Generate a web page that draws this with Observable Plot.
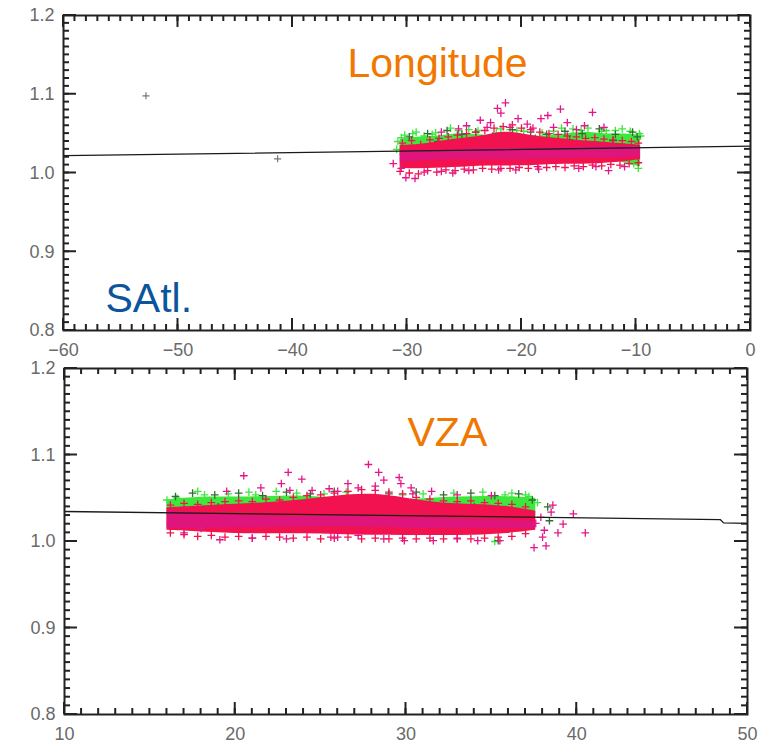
<!DOCTYPE html>
<html><head><meta charset="utf-8">
<script src="https://cdn.jsdelivr.net/npm/d3@7"></script>
<script src="https://cdn.jsdelivr.net/npm/@observablehq/plot@0.6"></script>
<style>
body{margin:0;background:#fff;}
#wrap{position:relative;width:758px;height:752px;overflow:hidden;background:#fff;}
#top{position:absolute;left:0;top:0;}
#bot{position:absolute;left:0;top:355px;}
</style></head><body><div id="wrap"><div id="top"></div><div id="bot"></div></div>
<script>
// ---------- colours ----------
const cGreen = "#3ce83c", cDark = "#2f6e2f", cRed = "#f2124f", cMag = "#cc18a8", cPink = "#e3168a";

// ---------- axis ticks ----------
const yMajor = [0.8, 0.9, 1.0, 1.1, 1.2];
const lonMajor = [-60, -50, -40, -30, -20, -10, 0];
const vzaMajor = [10, 20, 30, 40, 50];

// ---------- top panel: Longitude ----------
const lonBandX     = [-30.6, -29, -27.5, -26, -24.5, -23, -21.5, -20, -18.5, -17, -15.5, -14, -12.5, -11, -9.6];
const lonGreenTop  = [1.043, 1.046, 1.046, 1.050, 1.050, 1.047, 1.050, 1.048, 1.046, 1.048, 1.051, 1.052, 1.049, 1.050, 1.048];
const lonGreenBot  = [1.022, 1.022, 1.026, 1.028, 1.028, 1.028, 1.028, 1.028, 1.028, 1.028, 1.028, 1.026, 1.020, 1.012, 1.008];
const lonRedTop    = [1.035, 1.036, 1.039, 1.043, 1.045, 1.048, 1.053, 1.050, 1.046, 1.044, 1.042, 1.040, 1.039, 1.037, 1.035];
const lonRedBot    = [1.006, 1.005, 1.006, 1.007, 1.008, 1.009, 1.009, 1.009, 1.010, 1.011, 1.011, 1.011, 1.013, 1.014, 1.017];
const lonMagTop    = [1.028, 1.029, 1.029, 1.030, 1.031, 1.031, 1.031, 1.031, 1.032, 1.032, 1.033, 1.033, 1.034, 1.034, 1.034];
const lonMagBot    = [1.014, 1.015, 1.017, 1.017, 1.017, 1.017, 1.017, 1.017, 1.018, 1.018, 1.019, 1.019, 1.019, 1.019, 1.021];
const lonPinkPts = [[-21.4,1.089],[-22.1,1.082],[-21.8,1.076],[-17.7,1.073],[-16.6,1.081],[-13.8,1.077],[-23.6,1.067],
  [-20.3,1.069],[-22.7,1.064],[-18.3,1.069],[-19.5,1.062],[-24.8,1.060],[-21,1.058],[-16,1.064],[-14.5,1.060],
  [-25.5,1.056],[-19,1.057],[-12.8,1.058],[-27,1.052],[-23,1.058],[-17.2,1.058],[-15.2,1.055],
  [-30.1,0.994],[-29.3,0.993],[-31.2,1.012],[-24.6,1.003],[-12.4,1.003],[-28.5,1.001],[-27,1.002],[-22,1.004],
  [-18.5,1.005],[-15,1.006],[-30.5,1.006],[-11,1.008],[-26,1.000],[-20.5,1.004],[-13.5,1.008]];
const lonRedPts = [[-30.4,1.038],[-29.6,1.041],[-28.8,1.036],[-28,1.042],[-27.2,1.044],[-26.4,1.046],[-25.6,1.048],
  [-24.8,1.050],[-24,1.052],[-23.2,1.054],[-22.4,1.057],[-21.6,1.059],[-20.8,1.061],[-20,1.057],[-19.2,1.055],
  [-18.4,1.052],[-17.6,1.050],[-16.8,1.049],[-16,1.047],[-15.2,1.046],[-14.4,1.044],[-13.6,1.045],[-12.8,1.043],
  [-12,1.042],[-11.2,1.041],[-10.4,1.040],[-9.8,1.038],
  [-30.6,1.002],[-29.8,1.000],[-29,0.999],[-28.2,1.003],[-27.4,1.001],[-26.6,1.004],[-25.8,1.003],[-25,1.005],
  [-24.2,1.004],[-23.4,1.006],[-22.6,1.005],[-21.8,1.006],[-21,1.006],[-20.2,1.007],[-19.4,1.006],[-18.6,1.008],
  [-17.8,1.007],[-17,1.008],[-16.2,1.007],[-15.4,1.009],[-14.6,1.008],[-13.8,1.010],[-13,1.009],[-12.2,1.011],
  [-11.4,1.010],[-10.6,1.012],[-9.8,1.013]];
const lonDarkPts = [[-29.8,1.046],[-28.2,1.050],[-26.5,1.054],[-25.2,1.049],[-24,1.052],[-22.5,1.047],[-20.8,1.055],
  [-19.2,1.052],[-17.8,1.049],[-16.2,1.053],[-14.7,1.050],[-13.2,1.056],[-11.8,1.049],[-10.3,1.052],[-9.9,1.046],
  [-27.3,1.040],[-23.5,1.043],[-18.8,1.044],[-12,1.041],[-30.3,1.030],[-25.8,1.036],[-21.2,1.040],[-15.8,1.042]];
const lonGreenPts = [[-30.8,1.040],[-30.2,1.048],[-29.2,1.052],[-27.8,1.049],[-26.2,1.057],[-24.6,1.055],[-21.8,1.056],
  [-20.4,1.054],[-16.5,1.057],[-14.2,1.057],[-12.6,1.054],[-11.2,1.056],[-9.7,1.050],[-10.2,1.012],[-9.8,1.006],
  [-10.6,1.016],[-30.9,1.030],[-30.5,1.045],[-29.5,1.050],[-28.5,1.047],[-27.5,1.051],[-25.5,1.054],[-23.8,1.054],
  [-22.2,1.051],[-21,1.055],[-19.8,1.053],[-18.2,1.051],[-17.2,1.053],[-15.5,1.056],[-14.8,1.054],[-13,1.053],
  [-11.8,1.054],[-10.5,1.053],[-9.6,1.047],[-10,1.020]];
const lonGreyPts = [[-52.8,1.098],[-41.3,1.018]];
const lonFitX = [-60, 0];
const lonFitY = [1.022, 1.034];

// ---------- bottom panel: VZA ----------
const vzaBandX     = [16, 18, 20, 22, 24, 26, 28, 30, 32, 34, 36, 37.6];
const vzaGreenTop  = [1.048, 1.052, 1.051, 1.052, 1.053, 1.050, 1.048, 1.048, 1.051, 1.052, 1.052, 1.050];
const vzaGreenBot  = [1.030, 1.032, 1.035, 1.036, 1.036, 1.036, 1.036, 1.034, 1.032, 1.030, 1.028, 1.030];
const vzaRedTop    = [1.039, 1.041, 1.043, 1.045, 1.048, 1.053, 1.056, 1.050, 1.044, 1.043, 1.041, 1.035];
const vzaRedBot    = [1.013, 1.011, 1.009, 1.009, 1.009, 1.008, 1.007, 1.007, 1.007, 1.007, 1.009, 1.013];
const vzaMagTop    = [1.035, 1.033, 1.031, 1.029, 1.029, 1.029, 1.029, 1.027, 1.027, 1.025, 1.025, 1.023];
const vzaMagBot    = [1.015, 1.015, 1.016, 1.016, 1.017, 1.017, 1.017, 1.015, 1.015, 1.015, 1.015, 1.015];
const vzaPinkPts = [[20.5,1.076],[23.1,1.080],[23.9,1.072],[26.6,1.067],[27.8,1.089],[28.4,1.080],[28.7,1.071],
  [29.6,1.074],[30.3,1.062],[22.7,1.067],[23.2,1.059],[24.5,1.059],[29.7,1.067],[30.4,1.055],[27.2,1.062],
  [25.5,1.061],[26,1.058],[28.2,1.064],[31.5,1.058],[21.5,1.062],[19.5,1.058],[33,1.054],[35,1.053],
  [19.1,1.002],[25.6,1.005],[26,1.005],[27.2,1.007],[28.7,1.003],[29.9,1.001],[18,1.015],[31.6,1.001],
  [34.2,1.001],[35.5,1.001],[17,1.010],[21,1.004],[23,1.003],[33,1.003],
  [37.5,0.993],[38.2,0.995],[38.9,1.010],[38.1,1.013],[38.6,1.042],[38.5,1.034],[39.8,1.032],[40.5,1.010],
  [37.6,1.021],[38,1.005],[39.2,1.020],[37.9,1.028]];
const vzaRedPts = [[16.2,1.042],[17,1.044],[17.8,1.043],[18.6,1.045],[19.4,1.046],[20.2,1.047],[21,1.046],
  [21.8,1.049],[22.6,1.048],[23.4,1.051],[24.2,1.053],[25,1.054],[25.8,1.056],[26.6,1.058],[27.4,1.060],
  [28.2,1.059],[29,1.057],[29.8,1.055],[30.6,1.051],[31.4,1.049],[32.2,1.047],[33,1.046],[33.8,1.047],
  [34.6,1.045],[35.4,1.044],[36.2,1.043],[37,1.040],
  [16.2,1.010],[17,1.008],[17.8,1.006],[18.6,1.007],[19.4,1.005],[20.2,1.006],[21,1.004],[21.8,1.006],
  [22.6,1.005],[23.4,1.004],[24.2,1.005],[25,1.003],[25.8,1.004],[26.6,1.005],[27.4,1.003],[28.2,1.004],
  [29,1.003],[29.8,1.004],[30.6,1.003],[31.4,1.004],[32.2,1.003],[33,1.004],[33.8,1.003],[34.6,1.004],
  [35.4,1.005],[36.2,1.006],[37,1.009]];
const vzaDarkPts = [[16.5,1.052],[17.5,1.056],[18.8,1.054],[20.2,1.056],[21.6,1.053],[23,1.057],[24.4,1.055],
  [25.8,1.058],[27.4,1.054],[29,1.055],[30.6,1.057],[32.2,1.054],[33.8,1.056],[35.2,1.053],[36.6,1.055],
  [37.4,1.048],[38.3,1.040],[19,1.040],[24,1.043],[29.5,1.040],[34,1.040],[35.4,1.001],[38.4,1.024]];
const vzaGreenPts = [[16,1.048],[16.3,1.040],[17.8,1.058],[20.8,1.057],[22.4,1.058],[26.5,1.057],[31,1.055],
  [34.5,1.057],[36.2,1.056],[37.7,1.045],[37.2,1.052],[16.2,1.020],[35.2,1.000],[16.6,1.050],[18.2,1.054],
  [19.6,1.055],[21.2,1.054],[23.6,1.056],[25.2,1.055],[29.8,1.054],[32.8,1.056],[35.8,1.054],[37,1.054]];
const vzaFitX = [10, 48.4, 48.6, 50];
const vzaFitY = [1.0347, 1.0254, 1.0215, 1.0210];

// ---------- helpers ----------
const FONT = "Liberation Sans, Arial, sans-serif";
function bands(xs, gT, gB, rT, rB, mT, mB) {
  return xs.map((x, i) => ({x, gT: gT[i], gB: gB[i], rT: rT[i], rB: rB[i], mT: mT[i], mB: mB[i]}));
}
function pts(arr) { return arr.map(([x, y]) => ({x, y})); }
const dotOpt = {x: "x", y: "y", symbol: "plus", r: 2.6, strokeWidth: 1.3};

// inward frame ticks drawn with the plot's own x and y scales
function addFrameTicks(svg, xMinor, xMajor, yMinor, yMajorT) {
  const sx = svg.scale("x"), sy = svg.scale("y");
  const fx = sx.apply ? (v => sx.apply(v)) : d3.scaleLinear(sx.domain, sx.range);
  const fy = sy.apply ? (v => sy.apply(v)) : d3.scaleLinear(sy.domain, sy.range);
  const [xa, xb] = sx.range, [ya, yb] = sy.range; // ya = bottom, yb = top
  const g = d3.select(svg).append("g").attr("stroke", "#222").attr("stroke-width", 2).attr("fill", "none");
  const seg = (x1, y1, x2, y2) => g.append("line").attr("x1", x1).attr("y1", y1).attr("x2", x2).attr("y2", y2);
  for (const v of yMinor) { const y = fy(v); seg(xa, y, xa + 6, y); seg(xb, y, xb - 6, y); }
  for (const v of yMajorT) { const y = fy(v); seg(xa, y, xa + 13, y); seg(xb, y, xb - 13, y); }
  for (const v of xMinor) { const x = fx(v); seg(x, ya, x, ya - 6); seg(x, yb, x, yb + 6); }
  for (const v of xMajor) { const x = fx(v); seg(x, ya, x, ya - 12); seg(x, yb, x, yb + 12); }
}

function panel({width, height, mL, mR, mT, mB, xDomain, xMajor, band, greenPts, darkPts, redPts, pinkPts, extra, fitX, fitY, texts}) {
  const xMinor = d3.range(xDomain[0], xDomain[1] + 0.001, 1);
  const yMinor = d3.range(80, 121).map(d => d / 100);
  const fit = fitX.map((x, i) => ({x, y: fitY[i]}));
  const svg = Plot.plot({
    width, height, marginLeft: mL, marginRight: mR, marginTop: mT, marginBottom: mB,
    x: {domain: xDomain, label: null}, y: {domain: [0.8, 1.2], label: null},
    style: {fontFamily: FONT, fontSize: "18px", color: "#6a6a6a", background: "transparent"},
    marks: [
      Plot.areaY(band, {x: "x", y1: "gB", y2: "gT", fill: cGreen, curve: "basis"}),
      Plot.dot(pts(greenPts), {...dotOpt, stroke: cGreen}),
      Plot.dot(pts(darkPts), {...dotOpt, stroke: cDark}),
      Plot.areaY(band, {x: "x", y1: "rB", y2: "rT", fill: cRed, curve: "basis"}),
      Plot.dot(pts(redPts), {...dotOpt, stroke: cRed}),
      Plot.areaY(band, {x: "x", y1: "mB", y2: "mT", fill: cMag, fillOpacity: 0.5, curve: "basis"}),
      Plot.dot(pts(pinkPts), {...dotOpt, stroke: cPink}),
      ...extra,
      Plot.line(fit, {x: "x", y: "y", stroke: "#1a1a1a", strokeWidth: 1.3}),
      Plot.frame({stroke: "#222", strokeWidth: 2}),
      Plot.axisY(yMajor, {tickSize: 0, tickPadding: 9, tickFormat: d => d.toFixed(1), fontSize: 18, label: null}),
      Plot.axisX(xMajor, {tickSize: 0, tickPadding: 13, fontSize: 18, label: null}),
      ...texts
    ]
  });
  addFrameTicks(svg, xMinor, xMajor, yMinor, yMajor);
  return svg;
}

// ---------- top ----------
const topPlot = panel({
  width: 758, height: 365, mL: 63, mR: 8, mT: 15, mB: 35,
  xDomain: [-60, 0], xMajor: lonMajor,
  band: bands(lonBandX, lonGreenTop, lonGreenBot, lonRedTop, lonRedBot, lonMagTop, lonMagBot),
  greenPts: lonGreenPts, darkPts: lonDarkPts, redPts: lonRedPts, pinkPts: lonPinkPts,
  extra: [Plot.dot(pts(lonGreyPts), {...dotOpt, stroke: "#777", r: 2.4, strokeWidth: 1.2})],
  fitX: lonFitX, fitY: lonFitY,
  texts: [
    Plot.text(["Longitude"], {frameAnchor: "top-left", dx: 284, dy: 32, textAnchor: "start", fontSize: 41, fill: "#f07800", fontFamily: FONT}),
    Plot.text(["SAtl."], {frameAnchor: "top-left", dx: 42, dy: 267, textAnchor: "start", fontSize: 41, fill: "#0a559c", fontFamily: FONT})
  ]
});
document.getElementById("top").appendChild(topPlot);

// ---------- bottom ----------
const botPlot = panel({
  width: 758, height: 397, mL: 64, mR: 11, mT: 13, mB: 38,
  xDomain: [10, 50], xMajor: vzaMajor,
  band: bands(vzaBandX, vzaGreenTop, vzaGreenBot, vzaRedTop, vzaRedBot, vzaMagTop, vzaMagBot),
  greenPts: vzaGreenPts, darkPts: vzaDarkPts, redPts: vzaRedPts, pinkPts: vzaPinkPts,
  extra: [],
  fitX: vzaFitX, fitY: vzaFitY,
  texts: [
    Plot.text(["VZA"], {frameAnchor: "top-left", dx: 343, dy: 48, textAnchor: "start", fontSize: 41, fill: "#f07800", fontFamily: FONT})
  ]
});
document.getElementById("bot").appendChild(botPlot);
</script>
</body></html>
